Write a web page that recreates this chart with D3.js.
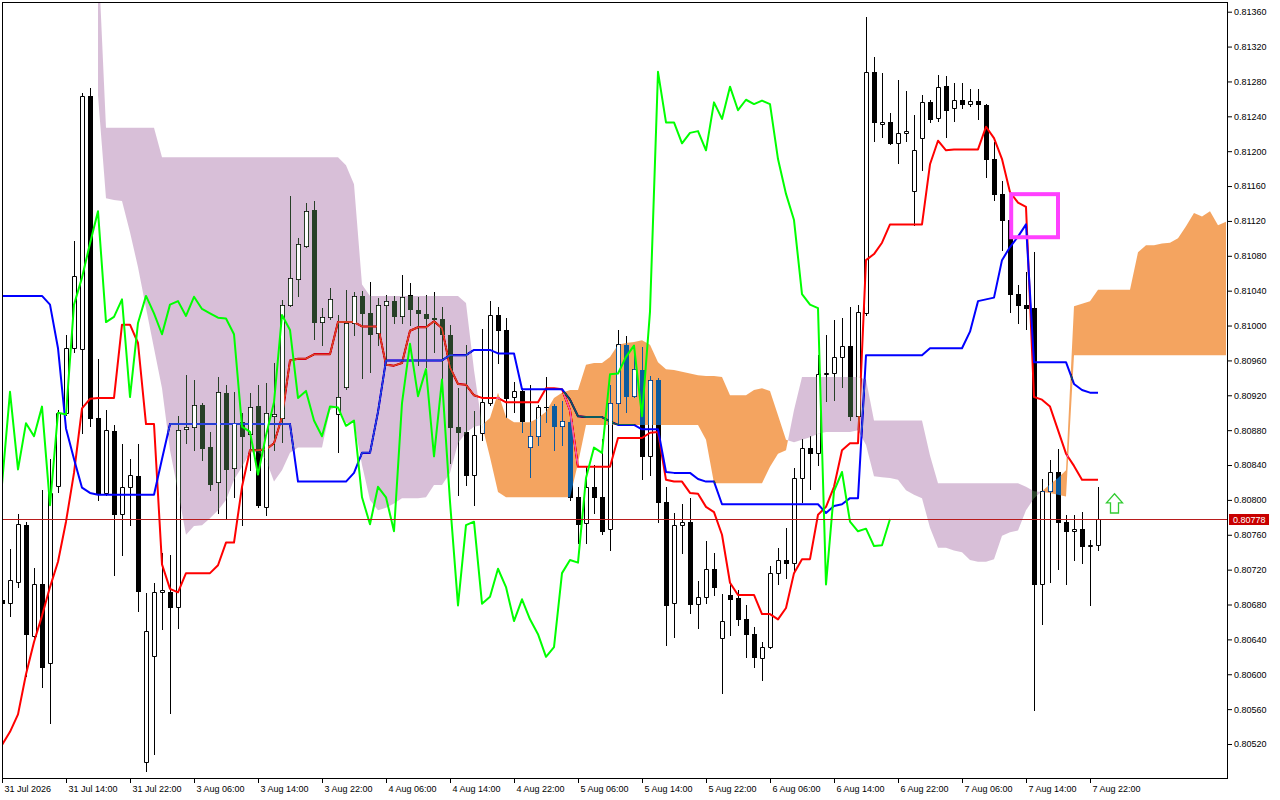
<!DOCTYPE html>
<html><head><meta charset="utf-8">
<script src="https://cdn.jsdelivr.net/npm/d3@7/dist/d3.min.js"></script>
<style>
body{margin:0;background:#fff;}
svg{display:block;}
text{font-family:"Liberation Sans",Arial,sans-serif;font-size:9px;fill:#000;}
</style>
</head><body>
<svg id="chart" width="1280" height="800"></svg>
<script>
// ---------- DATA (EURUSD-like H1, 31 Jul 06:00 .. 7 Aug 23:00) ----------
const open = [0.80685,0.80682,0.80706,0.80771,0.80644,0.80703,0.80613,0.80816,0.80900,0.80974,
0.80973,0.81263,0.80894,0.80808,0.80879,0.80784,0.80815,0.80827,0.80499,0.80621,
0.80694,0.80694,0.80677,0.80881,0.80884,0.80909,0.80861,0.80821,0.80923,0.80837,
0.80889,0.80876,0.80908,0.80792,0.80896,0.80894,0.81024,0.81053,0.81091,0.81133,
0.81004,0.81010,0.80898,0.80930,0.81003,0.81034,0.81014,0.80991,0.81024,0.81028,
0.81011,0.81035,0.81018,0.81013,0.81009,0.81008,0.80989,0.80884,0.80878,0.80829,
0.80877,0.80911,0.81012,0.80995,0.80918,0.80925,0.80861,0.80873,0.80907,0.80908,
0.80885,0.80889,0.80803,0.80773,0.80815,0.80803,0.80767,0.80911,0.80978,0.80919,
0.80949,0.80850,0.80938,0.80798,0.80682,0.80771,0.80775,0.80681,0.80689,0.80721,
0.80642,0.80691,0.80687,0.80663,0.80646,0.80619,0.80631,0.80716,0.80731,0.80728,
0.80825,0.80860,0.80854,0.80944,0.80945,0.80964,0.80977,0.80896,0.81014,0.81291,
0.81231,0.81233,0.81209,0.81221,0.81154,0.81215,0.81256,0.81238,0.81275,0.81250,
0.81259,0.81254,0.81258,0.81253,0.81191,0.81151,0.81121,0.81036,0.81024,0.81020,
0.80703,0.80810,0.80832,0.80775,0.80764,0.80767,0.80747,0.80748];
const high = [0.80694,0.80744,0.80784,0.80775,0.80722,0.80811,0.80847,0.80903,0.80989,0.81097,
0.81267,0.81272,0.80962,0.80903,0.80886,0.80864,0.80847,0.80864,0.80693,0.80705,
0.80739,0.80737,0.80896,0.80943,0.80938,0.80911,0.80878,0.80941,0.80932,0.80924,
0.80900,0.80923,0.80932,0.80934,0.80957,0.81029,0.81149,0.81100,0.81141,0.81143,
0.81020,0.81043,0.81012,0.81041,0.81038,0.81040,0.81050,0.81032,0.81035,0.81034,
0.81058,0.81049,0.81033,0.81035,0.81038,0.81021,0.81001,0.80928,0.80978,0.80902,
0.80996,0.81028,0.81021,0.81009,0.80935,0.80928,0.80932,0.80909,0.80941,0.80910,
0.80913,0.80897,0.80815,0.80839,0.80840,0.80870,0.80932,0.80995,0.80988,0.80978,
0.80975,0.80942,0.80940,0.80815,0.80785,0.80795,0.80802,0.80707,0.80753,0.80739,
0.80692,0.80705,0.80697,0.80679,0.80654,0.80637,0.80724,0.80745,0.80768,0.80837,
0.80870,0.80873,0.80966,0.80989,0.81006,0.81009,0.81021,0.81024,0.81354,0.81308,
0.81290,0.81244,0.81282,0.81269,0.81241,0.81264,0.81259,0.81287,0.81286,0.81278,
0.81278,0.81271,0.81271,0.81254,0.81211,0.81166,0.81127,0.81047,0.81061,0.81084,
0.80824,0.80846,0.80858,0.80783,0.80783,0.80786,0.80754,0.80815];
const low = [0.80674,0.80667,0.80700,0.80598,0.80639,0.80585,0.80544,0.80809,0.80897,0.80970,
0.80877,0.80885,0.80800,0.80806,0.80714,0.80737,0.80771,0.80673,0.80489,0.80509,
0.80652,0.80556,0.80653,0.80865,0.80857,0.80846,0.80811,0.80785,0.80779,0.80803,
0.80771,0.80834,0.80792,0.80783,0.80857,0.80866,0.81022,0.81034,0.81090,0.80985,
0.80978,0.81008,0.80855,0.80927,0.80989,0.80940,0.80947,0.80978,0.80960,0.81003,
0.81003,0.81001,0.80955,0.80952,0.80970,0.80926,0.80842,0.80806,0.80817,0.80794,
0.80869,0.80909,0.80957,0.80895,0.80901,0.80878,0.80826,0.80863,0.80889,0.80857,
0.80863,0.80800,0.80751,0.80751,0.80785,0.80761,0.80742,0.80886,0.80901,0.80918,
0.80824,0.80829,0.80775,0.80634,0.80643,0.80739,0.80670,0.80653,0.80682,0.80691,
0.80578,0.80645,0.80657,0.80620,0.80608,0.80593,0.80630,0.80703,0.80710,0.80720,
0.80798,0.80812,0.80840,0.80913,0.80915,0.80930,0.80892,0.80893,0.81012,0.81212,
0.81216,0.81208,0.81186,0.81212,0.81115,0.81178,0.81233,0.81235,0.81216,0.81235,
0.81250,0.81252,0.81237,0.81170,0.81144,0.81087,0.81016,0.81003,0.80996,0.80559,
0.80658,0.80706,0.80721,0.80703,0.80731,0.80728,0.80679,0.80742];
const close = [0.80682,0.80708,0.80772,0.80646,0.80703,0.80608,0.80808,0.80900,0.80974,0.81057,
0.81263,0.80894,0.80808,0.80880,0.80784,0.80815,0.80829,0.80696,0.80650,0.80694,
0.80697,0.80677,0.80880,0.80884,0.80909,0.80860,0.80818,0.80924,0.80835,0.80888,
0.80873,0.80907,0.80794,0.80900,0.80898,0.81024,0.81055,0.81094,0.81131,0.81004,
0.81010,0.81030,0.80918,0.81003,0.81034,0.81014,0.80990,0.81024,0.81028,0.81011,
0.81033,0.81019,0.81014,0.81009,0.81008,0.80990,0.80884,0.80878,0.80829,0.80874,
0.80912,0.81012,0.80995,0.80917,0.80925,0.80891,0.80873,0.80907,0.80906,0.80885,
0.80891,0.80803,0.80772,0.80815,0.80803,0.80764,0.80911,0.80979,0.80919,0.80950,
0.80850,0.80938,0.80798,0.80679,0.80771,0.80775,0.80681,0.80689,0.80721,0.80700,
0.80661,0.80686,0.80663,0.80646,0.80620,0.80631,0.80716,0.80731,0.80728,0.80825,
0.80860,0.80854,0.80944,0.80945,0.80964,0.80977,0.80896,0.81016,0.81291,0.81233,
0.81233,0.81209,0.81221,0.81223,0.81201,0.81256,0.81237,0.81274,0.81247,0.81259,
0.81254,0.81258,0.81254,0.81191,0.81151,0.81121,0.81036,0.81024,0.81020,0.80703,
0.80810,0.80832,0.80775,0.80764,0.80767,0.80747,0.80748,0.80778];
const tenkan = [0.80519,0.80534,0.80554,0.80600,0.80637,0.80667,0.80700,0.80729,0.80775,0.80831,
0.80905,0.80916,0.80917,0.80917,0.80917,0.81001,0.81001,0.80980,0.80887,0.80887,
0.80726,0.80698,0.80694,0.80716,0.80716,0.80716,0.80716,0.80725,0.80751,0.80751,
0.80815,0.80857,0.80857,0.80858,0.80865,0.80895,0.80960,0.80962,0.80962,0.80967,
0.80967,0.80967,0.81004,0.81004,0.81004,0.80999,0.80999,0.80999,0.80955,0.80954,
0.80957,0.80994,0.80998,0.80998,0.81005,0.80997,0.80952,0.80933,0.80932,0.80920,
0.80917,0.80917,0.80917,0.80912,0.80912,0.80912,0.80912,0.80912,0.80928,0.80928,
0.80927,0.80903,0.80838,0.80838,0.80838,0.80838,0.80838,0.80871,0.80871,0.80871,
0.80871,0.80877,0.80878,0.80823,0.80821,0.80821,0.80808,0.80807,0.80792,0.80786,
0.80760,0.80705,0.80691,0.80691,0.80691,0.80669,0.80669,0.80663,0.80676,0.80716,
0.80732,0.80732,0.80783,0.80792,0.80815,0.80857,0.80865,0.80865,0.81075,0.81082,
0.81095,0.81116,0.81116,0.81116,0.81116,0.81116,0.81185,0.81212,0.81201,0.81202,
0.81202,0.81202,0.81202,0.81228,0.81215,0.81191,0.81153,0.81141,0.81136,0.80918,
0.80915,0.80907,0.80880,0.80853,0.80839,0.80823,0.80823,0.80823];
const kijun = [0.81034,0.81034,0.81034,0.81034,0.81034,0.81034,0.81024,0.80974,0.80882,0.80847,
0.80814,0.80808,0.80806,0.80806,0.80806,0.80806,0.80806,0.80806,0.80806,0.80806,
0.80847,0.80887,0.80887,0.80887,0.80887,0.80887,0.80887,0.80887,0.80887,0.80887,
0.80887,0.80887,0.80887,0.80887,0.80887,0.80887,0.80887,0.80821,0.80821,0.80821,
0.80821,0.80821,0.80821,0.80821,0.80831,0.80854,0.80854,0.80901,0.80960,0.80960,
0.80960,0.80960,0.80960,0.80960,0.80960,0.80960,0.80966,0.80966,0.80966,0.80972,
0.80972,0.80972,0.80968,0.80968,0.80968,0.80927,0.80927,0.80927,0.80927,0.80927,
0.80927,0.80915,0.80896,0.80895,0.80895,0.80895,0.80890,0.80886,0.80886,0.80886,
0.80881,0.80881,0.80881,0.80832,0.80831,0.80831,0.80831,0.80824,0.80821,0.80821,
0.80795,0.80795,0.80795,0.80795,0.80795,0.80795,0.80795,0.80795,0.80795,0.80795,
0.80795,0.80795,0.80795,0.80785,0.80793,0.80795,0.80802,0.80802,0.80966,0.80966,
0.80966,0.80966,0.80966,0.80966,0.80966,0.80966,0.80974,0.80974,0.80974,0.80974,
0.80974,0.80993,0.81028,0.81030,0.81032,0.81075,0.81090,0.81102,0.81116,0.80958,
0.80958,0.80958,0.80958,0.80958,0.80933,0.80926,0.80923,0.80923];
// Senkou spans, already shifted 26 bars forward; first value belongs to bar kumoFirstBar
const kumoFirstBar = 12;
const spanA = [0.81264,0.81146,0.81144,0.81143,0.81107,0.81067,0.81020,0.80974,0.80928,0.80857,
0.80810,0.80760,0.80770,0.80771,0.80779,0.80788,0.80800,0.80823,0.80838,0.80854,
0.80855,0.80846,0.80821,0.80834,0.80854,0.80860,0.80860,0.80860,0.80860,0.80903,
0.80908,0.80888,0.80889,0.80840,0.80800,0.80788,0.80791,0.80796,0.80802,0.80802,
0.80802,0.80803,0.80817,0.80817,0.80831,0.80865,0.80877,0.80884,0.80886,0.80894,
0.80923,0.80895,0.80889,0.80889,0.80889,0.80894,0.80901,0.80917,0.80923,0.80926,
0.80926,0.80955,0.80957,0.80957,0.80964,0.80978,0.80980,0.80981,0.80983,0.80978,
0.80958,0.80950,0.80949,0.80947,0.80945,0.80943,0.80942,0.80942,0.80941,0.80920,
0.80920,0.80920,0.80926,0.80928,0.80925,0.80897,0.80869,0.80866,0.80869,0.80872,
0.80876,0.80878,0.80878,0.80878,0.80878,0.80880,0.80863,0.80827,0.80826,0.80825,
0.80823,0.80811,0.80806,0.80802,0.80768,0.80745,0.80745,0.80742,0.80740,0.80731,
0.80729,0.80729,0.80732,0.80759,0.80763,0.80765,0.80788,0.80802,0.80810,0.80818,
0.80825,0.80834,0.81022,0.81025,0.81028,0.81041,0.81041,0.81041,0.81041,0.81041,
0.81084,0.81092,0.81092,0.81094,0.81095,0.81100,0.81114,0.81129,0.81125,0.81131,
0.81115,0.81119];
const spanB = [0.81431,0.81227,0.81227,0.81227,0.81227,0.81227,0.81227,0.81227,0.81193,0.81193,
0.81193,0.81193,0.81193,0.81193,0.81193,0.81193,0.81193,0.81193,0.81193,0.81193,
0.81193,0.81193,0.81193,0.81193,0.81193,0.81193,0.81193,0.81193,0.81193,0.81193,
0.81193,0.81184,0.81162,0.81047,0.81034,0.81034,0.81034,0.81034,0.81034,0.81034,
0.81034,0.81034,0.81034,0.81034,0.81034,0.81034,0.81026,0.80949,0.80886,0.80849,
0.80809,0.80803,0.80803,0.80803,0.80803,0.80803,0.80803,0.80803,0.80803,0.80803,
0.80842,0.80886,0.80886,0.80886,0.80886,0.80886,0.80886,0.80886,0.80886,0.80886,
0.80886,0.80886,0.80886,0.80886,0.80886,0.80886,0.80869,0.80819,0.80819,0.80819,
0.80819,0.80819,0.80819,0.80819,0.80838,0.80853,0.80857,0.80903,0.80941,0.80941,
0.80941,0.80941,0.80941,0.80941,0.80941,0.80941,0.80938,0.80891,0.80891,0.80891,
0.80891,0.80891,0.80891,0.80891,0.80851,0.80819,0.80819,0.80819,0.80819,0.80819,
0.80819,0.80819,0.80819,0.80819,0.80819,0.80819,0.80815,0.80810,0.80809,0.80808,
0.80806,0.80804,0.80966,0.80966,0.80966,0.80966,0.80966,0.80966,0.80966,0.80966,
0.80966,0.80966,0.80966,0.80966,0.80966,0.80966,0.80966,0.80966,0.80966,0.80966,
0.80966,0.80966];
const chikouShift = 26;
const lastPrice = 0.80778;
const priceTicks = [0.80520,0.80560,0.80600,0.80640,0.80680,0.80720,0.80760,0.80800,0.80840,0.80880,0.80920,
0.80960,0.81000,0.81040,0.81080,0.81120,0.81160,0.81200,0.81240,0.81280,0.81320,0.81360];
const timeLabelBars = [0,8,16,24,32,40,48,56,64,72,80,88,96,104,112,120,128,136];
const timeLabels = ["31 Jul 2026","31 Jul 14:00","31 Jul 22:00","3 Aug 06:00","3 Aug 14:00","3 Aug 22:00",
"4 Aug 06:00","4 Aug 14:00","4 Aug 22:00","5 Aug 06:00","5 Aug 14:00","5 Aug 22:00",
"6 Aug 06:00","6 Aug 14:00","6 Aug 22:00","7 Aug 06:00","7 Aug 14:00","7 Aug 22:00"];
const markBoxBars = [125.9, 132.25];
const markBoxPrices = [0.81153, 0.81099];
const arrowBar = 139;
const arrowPrices = [0.80807, 0.80785];

// ---------- LAYOUT ----------
const PL = 2, PR = 1227, PT = 2, PB = 778;
const lastBar = spanA.length + kumoFirstBar - 1; // 153
const x = d3.scaleLinear().domain([0, lastBar]).range([2, 2 + 8 * lastBar]);
const y = d3.scaleLinear().domain([0.80520, 0.81360]).range([744, 11.7]);
const px = i => Math.round(x(i));
const py = v => Math.round(y(v));

const svg = d3.select("#chart");
svg.append("rect").attr("width",1280).attr("height",800).attr("fill","#fff");
const defs = svg.append("defs");
defs.append("clipPath").attr("id","plotClip").append("rect")
  .attr("x",PL).attr("y",PT).attr("width",PR-PL).attr("height",PB-PT);

const kumo = spanA.map((a,k)=>({i:k+kumoFirstBar, a, b:spanB[k]}));
const areaAboveA = d3.area().x(d=>x(d.i)).y0(d=>y(d.a)).y1(-300);
const areaBelowA = d3.area().x(d=>x(d.i)).y0(d=>y(d.a)).y1(1100);
const areaBelowB = d3.area().x(d=>x(d.i)).y0(d=>y(d.b)).y1(1100);
const areaAboveB = d3.area().x(d=>x(d.i)).y0(d=>y(d.b)).y1(-300);
const areaKumo = d3.area().x(d=>x(d.i)).y0(d=>y(d.a)).y1(d=>y(d.b));
defs.append("clipPath").attr("id","clipAboveA").append("path").attr("d",areaAboveA(kumo));
defs.append("clipPath").attr("id","clipBelowA").append("path").attr("d",areaBelowA(kumo));
defs.append("clipPath").attr("id","clipKumo").append("path").attr("d",areaKumo(kumo));

const plot = svg.append("g").attr("clip-path","url(#plotClip)");
plot.append("rect").attr("x",0).attr("y",0).attr("width",1280).attr("height",800).attr("fill","#fff");

const bars = open.map((o,i)=>({i,o,h:high[i],l:low[i],c:close[i]}));

// candles
const gC = plot.append("g");
bars.forEach(d=>{
  const cx = px(d.i);
  const top = py(Math.max(d.o,d.c)), bot = py(Math.min(d.o,d.c));
  const hy = py(d.h), ly = py(d.l);
  gC.append("rect").attr("x",cx).attr("y",hy).attr("width",1).attr("height",ly-hy+1).attr("fill","#000");
  if (d.c < d.o) {
    gC.append("rect").attr("x",cx-2).attr("y",top).attr("width",5).attr("height",Math.max(1,bot-top+1)).attr("fill","#000");
  } else {
    gC.append("rect").attr("x",cx-2).attr("y",top).attr("width",5).attr("height",bot-top+1).attr("fill","#fff");
    gC.append("path").attr("d",`M${cx-1.5},${top+0.5}h4v${bot-top}h-4z`)
      .attr("fill","none").attr("stroke","#000").attr("stroke-width",1);
  }
});

const lineGen = d3.line().x((d,i)=>x(i)).y(d=>y(d));
plot.append("path").attr("d",lineGen(tenkan)).attr("fill","none").attr("stroke","#ff0000")
  .attr("stroke-width",2).attr("stroke-linejoin","round");
plot.append("path").attr("d",lineGen(kijun)).attr("fill","none").attr("stroke","#0000ff")
  .attr("stroke-width",2).attr("stroke-linejoin","round");

// kumo (drawn in difference mode, as the terminal does)
plot.append("path").attr("d",areaBelowB(kumo)).attr("clip-path","url(#clipAboveA)")
  .attr("fill","#274027").style("mix-blend-mode","difference");   // Thistle cloud
plot.append("path").attr("d",areaAboveB(kumo)).attr("clip-path","url(#clipBelowA)")
  .attr("fill","#0b5b9f").style("mix-blend-mode","difference");   // SandyBrown cloud

// bull bodies stay white inside the cloud
const gW = plot.append("g").attr("clip-path","url(#clipKumo)");
bars.forEach(d=>{
  if (d.c >= d.o) {
    const cx = px(d.i);
    const top = py(d.c), bot = py(d.o);
    if (bot-top >= 2) gW.append("rect").attr("x",cx-1).attr("y",top+1).attr("width",3).attr("height",bot-top-1).attr("fill","#fff");
  }
});

// chikou span
const chikou = close.slice(chikouShift);
plot.append("path").attr("d",lineGen(chikou)).attr("fill","none").attr("stroke","#00ff00")
  .attr("stroke-width",2).attr("stroke-linejoin","round");

// bid line
plot.append("line").attr("x1",PL).attr("x2",PR).attr("y1",py(lastPrice)+0.5).attr("y2",py(lastPrice)+0.5)
  .attr("stroke","#b81c1c").attr("stroke-width",1);

// annotations
const bx0 = x(markBoxBars[0]), bx1 = x(markBoxBars[1]);
const by0 = y(markBoxPrices[0]), by1 = y(markBoxPrices[1]);
plot.append("rect").attr("x",bx0+2).attr("y",by0+2).attr("width",bx1-bx0-4).attr("height",by1-by0-4)
  .attr("fill","none").attr("stroke","#ff40ff").attr("stroke-width",4);
const ax = px(arrowBar)+0.5, at = y(arrowPrices[0]), ab = y(arrowPrices[1]);
const ah = 9;
plot.append("path").attr("d",`M${ax},${at}L${ax+8},${at+ah}L${ax+4},${at+ah}L${ax+4},${ab}L${ax-4},${ab}L${ax-4},${at+ah}L${ax-8},${at+ah}Z`)
  .attr("fill","#fff").attr("stroke","#33cc33").attr("stroke-width",1.3);

// frame
svg.append("rect").attr("x",PL+0.5).attr("y",PT+0.5).attr("width",PR-PL).attr("height",PB-PT)
  .attr("fill","none").attr("stroke","#000").attr("stroke-width",1);

// price axis
const yAxis = d3.axisRight(y).tickValues(priceTicks).tickFormat(d3.format(".5f")).tickSize(5).tickPadding(2);
const gy = svg.append("g").attr("transform",`translate(${PR},0)`).call(yAxis);
gy.select(".domain").remove();
gy.selectAll("line").attr("stroke","#000");
gy.selectAll("text").style("font-family","'Liberation Sans',Arial,sans-serif").style("font-size","9px").attr("fill","#000");

// time axis
const xAxis = d3.axisBottom(x).tickValues(timeLabelBars).tickFormat((d,k)=>timeLabels[k]).tickSize(5).tickPadding(3);
const gx = svg.append("g").attr("transform",`translate(0,${PB})`).call(xAxis);
gx.select(".domain").remove();
gx.selectAll("line").attr("stroke","#000");
gx.selectAll("text").attr("text-anchor","start").attr("x",2)
  .style("font-family","'Liberation Sans',Arial,sans-serif").style("font-size","9px").attr("fill","#000");

// last price label
const ly0 = py(lastPrice);
svg.append("rect").attr("x",1229).attr("y",ly0-5).attr("width",40).attr("height",11).attr("fill","#c80000");
svg.append("text").attr("x",1233).attr("y",ly0+0.5).attr("dy","0.35em").text(d3.format(".5f")(lastPrice))
  .style("fill","#fff").style("font-size","9px");
</script>
</body></html>
